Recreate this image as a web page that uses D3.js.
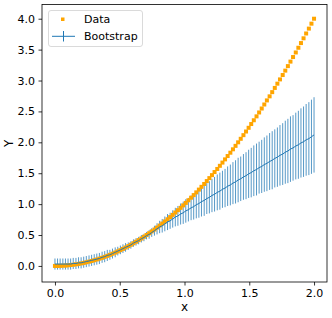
<!DOCTYPE html>
<html><head><meta charset="utf-8">
<script src="https://cdn.jsdelivr.net/npm/d3@7"></script>
<style>body{margin:0;background:#fff}svg{display:block}text{font-family:"DejaVu Sans",sans-serif}</style>
</head><body>
<script>
const xValues = [0.000,0.020,0.040,0.061,0.081,0.101,0.121,0.141,0.162,0.182,0.202,0.222,0.242,0.263,0.283,0.303,0.323,0.343,0.364,0.384,0.404,0.424,0.444,0.465,0.485,0.505,0.525,0.545,0.566,0.586,0.606,0.626,0.646,0.667,0.687,0.707,0.727,0.747,0.768,0.788,0.808,0.828,0.848,0.869,0.889,0.909,0.929,0.949,0.970,0.990,1.010,1.030,1.051,1.071,1.091,1.111,1.131,1.152,1.172,1.192,1.212,1.232,1.253,1.273,1.293,1.313,1.333,1.354,1.374,1.394,1.414,1.434,1.455,1.475,1.495,1.515,1.535,1.556,1.576,1.596,1.616,1.636,1.657,1.677,1.697,1.717,1.737,1.758,1.778,1.798,1.818,1.838,1.859,1.879,1.899,1.919,1.939,1.960,1.980,2.000];
const dataY = [0.000,0.000,0.002,0.004,0.007,0.010,0.015,0.020,0.026,0.033,0.041,0.049,0.059,0.069,0.080,0.092,0.104,0.118,0.132,0.147,0.163,0.180,0.198,0.216,0.235,0.255,0.276,0.298,0.320,0.343,0.367,0.392,0.418,0.444,0.472,0.500,0.529,0.559,0.589,0.621,0.653,0.686,0.720,0.755,0.790,0.826,0.864,0.902,0.940,0.980,1.020,1.062,1.104,1.146,1.190,1.235,1.280,1.326,1.373,1.421,1.469,1.519,1.569,1.620,1.672,1.724,1.778,1.832,1.887,1.943,2.000,2.057,2.116,2.175,2.235,2.296,2.357,2.420,2.483,2.547,2.612,2.678,2.744,2.812,2.880,2.949,3.018,3.089,3.160,3.233,3.306,3.380,3.454,3.530,3.606,3.683,3.761,3.840,3.920,4.000];
const bootY = [0.03,0.03,0.03,0.03,0.03,0.03,0.03,0.04,0.04,0.05,0.05,0.06,0.07,0.08,0.09,0.10,0.11,0.12,0.14,0.15,0.17,0.18,0.20,0.22,0.24,0.26,0.28,0.30,0.32,0.34,0.37,0.39,0.41,0.44,0.46,0.49,0.51,0.54,0.57,0.60,0.63,0.65,0.68,0.71,0.73,0.76,0.79,0.81,0.84,0.86,0.89,0.91,0.94,0.96,0.99,1.01,1.04,1.06,1.09,1.11,1.14,1.16,1.19,1.21,1.24,1.26,1.29,1.31,1.34,1.36,1.39,1.41,1.44,1.46,1.49,1.51,1.54,1.56,1.59,1.61,1.64,1.66,1.69,1.71,1.74,1.76,1.79,1.81,1.84,1.86,1.89,1.91,1.94,1.96,1.99,2.01,2.04,2.06,2.09,2.12];
const bootErr = [0.09,0.09,0.09,0.09,0.09,0.09,0.09,0.09,0.09,0.09,0.09,0.09,0.09,0.09,0.09,0.09,0.09,0.09,0.09,0.09,0.09,0.08,0.08,0.08,0.07,0.07,0.07,0.07,0.06,0.06,0.06,0.06,0.06,0.06,0.06,0.06,0.07,0.07,0.08,0.09,0.10,0.11,0.12,0.13,0.13,0.14,0.15,0.16,0.17,0.18,0.19,0.19,0.20,0.21,0.22,0.23,0.24,0.25,0.25,0.26,0.27,0.28,0.29,0.30,0.30,0.31,0.32,0.33,0.34,0.35,0.36,0.36,0.37,0.38,0.39,0.40,0.41,0.42,0.42,0.43,0.44,0.45,0.46,0.47,0.47,0.48,0.49,0.50,0.51,0.52,0.53,0.53,0.54,0.55,0.56,0.57,0.58,0.59,0.60,0.61];
const xTicks = [0.0,0.5,1.0,1.5,2.0];
const yTicks = [0.0,0.5,1.0,1.5,2.0,2.5,3.0,3.5,4.0];
const seriesNames = ["Data","Bootstrap"];

const W=332,H=318, L=42, R=327, T=4.5, B=282;
const svg=d3.select("body").append("svg").attr("width",W).attr("height",H);
const x=d3.scaleLinear().domain([-0.1,2.1]).range([L,R]);
const y=d3.scaleLinear().domain([-0.26,4.23]).range([B,T]);
const blue="#1f77b4", orange="#ffa500";
const pts=xValues.map((v,i)=>({x:v,d:dataY[i],b:bootY[i],e:bootErr[i]}));

const clip=svg.append("clipPath").attr("id","c").append("rect").attr("x",L).attr("y",T).attr("width",R-L).attr("height",B-T);
const g=svg.append("g").attr("clip-path","url(#c)");
// error bars
g.selectAll("line.eb").data(pts).enter().append("line").attr("class","eb")
 .attr("x1",d=>x(d.x)).attr("x2",d=>x(d.x)).attr("y1",d=>y(d.b-d.e)).attr("y2",d=>y(d.b+d.e))
 .attr("stroke",blue).attr("stroke-width",1).attr("stroke-opacity",0.75);
// data points
g.selectAll("rect.pt").data(pts).enter().append("rect").attr("class","pt")
 .attr("x",d=>x(d.x)-2).attr("y",d=>y(d.d)-2).attr("width",4).attr("height",4).attr("fill",orange);
// bootstrap line
g.append("path").datum(pts).attr("d",d3.line().x(d=>x(d.x)).y(d=>y(d.b)))
 .attr("fill","none").attr("stroke",blue).attr("stroke-width",1);

// axes
const xa=svg.append("g").attr("transform",`translate(0,${B})`).call(d3.axisBottom(x).tickValues(xTicks).tickFormat(d3.format(".1f")).tickSizeOuter(0).tickSize(3.5).tickPadding(3.5));
const ya=svg.append("g").attr("transform",`translate(${L},0)`).call(d3.axisLeft(y).tickValues(yTicks).tickFormat(d3.format(".1f")).tickSizeOuter(0).tickSize(3.5).tickPadding(3.5));
[xa,ya].forEach(a=>{a.select(".domain").remove();a.selectAll("text").attr("font-size",11).attr("fill","#000").style("font-family","DejaVu Sans");a.selectAll("line").attr("stroke","#000").attr("stroke-width",0.8);});
svg.append("rect").attr("x",L).attr("y",T).attr("width",R-L).attr("height",B-T).attr("fill","none").attr("stroke","#000").attr("stroke-width",0.8);

svg.append("text").attr("x",(L+R)/2).attr("y",311).attr("text-anchor","middle").attr("font-size",12).text("x");
svg.append("text").attr("transform",`translate(13,${(T+B)/2}) rotate(-90)`).attr("text-anchor","middle").attr("font-size",12).text("Y");

// legend
const lg=svg.append("g");
lg.append("rect").attr("x",48.5).attr("y",10.5).attr("width",94).attr("height",36).attr("rx",2.5)
 .attr("fill","#fff").attr("fill-opacity",0.8).attr("stroke","#d0d0d0").attr("stroke-width",0.8);
lg.append("rect").attr("x",61).attr("y",17.5).attr("width",3.5).attr("height",3.5).attr("fill",orange);
lg.append("line").attr("x1",52).attr("x2",75).attr("y1",36.3).attr("y2",36.3).attr("stroke",blue).attr("stroke-width",1);
lg.append("line").attr("x1",63.5).attr("x2",63.5).attr("y1",31).attr("y2",41.5).attr("stroke",blue).attr("stroke-width",1);
lg.append("text").attr("x",84).attr("y",19).attr("dy","0.35em").attr("font-size",11).text(seriesNames[0]);
lg.append("text").attr("x",84).attr("y",36.3).attr("dy","0.35em").attr("font-size",11).text(seriesNames[1]);
</script>
</body></html>
